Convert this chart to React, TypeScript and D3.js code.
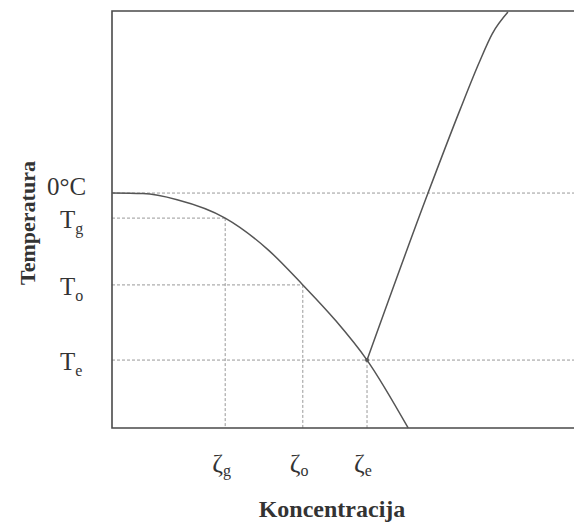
import * as d3 from "d3";

// concentration (%, arbitrary scale) and temperature (arbitrary units, 0 = 0°C)
const freezeC = [0, 6.7, 14.1, 24.5, 33.8, 41.3, 48.3, 55.2, 64.1];
const freezeT = [0, -0.1, -1.2, -4.5, -10.2, -16.5, -22.8, -30, -42.2];
const solC = [55.2, 68.4, 75.3, 79.5, 82.3, 85.7];
const solT = [-30, 0, 14.9, 23.5, 28.6, 32.5];

const levelNames = ["g", "o", "e"];
const levelC = [24.5, 41.3, 55.2];
const levelT = [-4.5, -16.5, -30];

const W = 574, H = 524;
const left = 112, right = 574, top = 11, bottom = 428;

export default function App() {
  const x = d3.scaleLinear().domain([0, 100]).range([left, right]);
  const y = d3.scaleLinear().domain([-42.2, 32.7]).range([bottom, top]);

  const line = d3.line<[number, number]>()
    .x(d => x(d[0]))
    .y(d => y(d[1]))
    .curve(d3.curveMonotoneX);

  const freeze = freezeC.map((c, i) => [c, freezeT[i]] as [number, number]);
  const sol = solC.map((c, i) => [c, solT[i]] as [number, number]);

  const serif = "'Liberation Serif', 'Times New Roman', serif";
  const dash = { stroke: "#999", strokeWidth: 1, strokeDasharray: "3,2", fill: "none" };

  return (
    <svg width={W} height={H} style={{ position: "absolute", left: 0, top: 0, background: "#fff" }}>
      {/* guide lines */}
      <line x1={x(0)} x2={right} y1={y(0)} y2={y(0)} {...dash} />
      <line x1={x(0)} x2={right} y1={y(levelT[2])} y2={y(levelT[2])} {...dash} />
      {levelC.map((c, i) => (
        <g key={i}>
          {i < 2 && <line x1={x(0)} x2={x(c)} y1={y(levelT[i])} y2={y(levelT[i])} {...dash} />}
          <line x1={x(c)} x2={x(c)} y1={y(levelT[i])} y2={bottom} {...dash} />
        </g>
      ))}

      {/* frame */}
      <path d={`M${right},${top}H${left}V${bottom}H${right}`} fill="none" stroke="#4a4a4a" strokeWidth={1.6} />

      {/* curves */}
      <path d={line(freeze) || ""} fill="none" stroke="#555" strokeWidth={1.5} />
      <path d={line(sol) || ""} fill="none" stroke="#555" strokeWidth={1.5} />
      <circle cx={x(levelC[2])} cy={y(levelT[2])} r={2} fill="#555" />

      {/* temperature labels */}
      <text x={47} y={y(0) + 2} fontFamily={serif} fontSize={25} fill="#333">0°C</text>
      {levelNames.map((n, i) => (
        <text key={n} x={60} y={y(levelT[i]) + 10} fontFamily={serif} fontSize={25} fill="#333">
          T<tspan fontSize={16} dy={6}>{n}</tspan>
        </text>
      ))}

      {/* concentration labels */}
      {levelNames.map((n, i) => (
        <text key={n} x={x(levelC[i]) - 13} y={472} fontFamily={serif} fontSize={26} fill="#333">
          ζ<tspan fontSize={16} dy={4}>{n}</tspan>
        </text>
      ))}

      {/* axis titles */}
      <text x={332} y={517} textAnchor="middle" fontFamily={serif} fontWeight="bold" fontSize={24} fill="#333">
        Koncentracija
      </text>
      <text transform={`translate(35,223) rotate(-90)`} textAnchor="middle" fontFamily={serif} fontWeight="bold" fontSize={22} fill="#333">
        Temperatura
      </text>
    </svg>
  );
}
